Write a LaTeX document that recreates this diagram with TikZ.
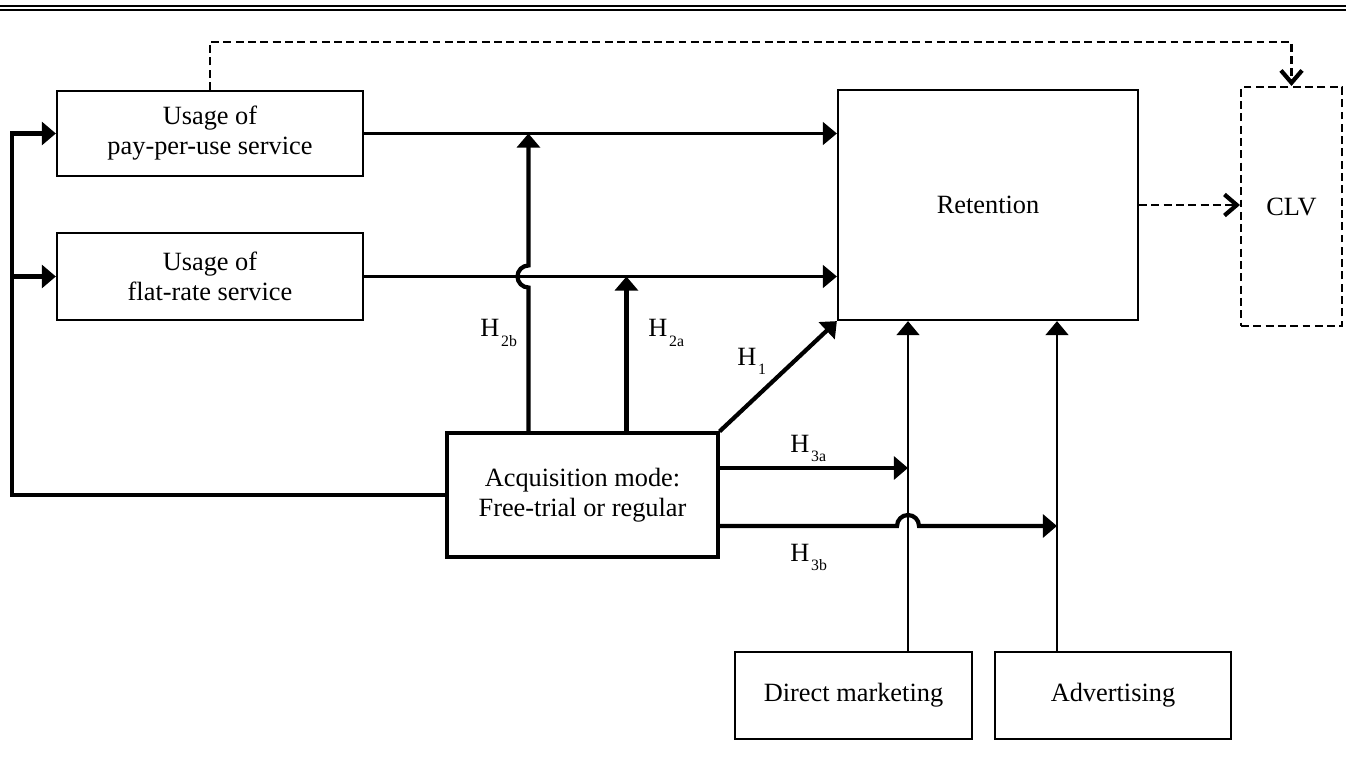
\documentclass[tikz,border=0pt]{standalone}
\usepackage{fontspec}
\setmainfont{Liberation Serif}
\usetikzlibrary{arrows.meta,calc}
\newcommand{\hyp}[1]{H\kern1pt\raisebox{-5.5pt}{\fontsize{9}{9}\selectfont #1}}

\begin{document}
\begin{tikzpicture}[x=0.02cm, y=-0.02cm, font=\fontsize{15}{17}\selectfont,
                box/.style={draw, line width=1.3pt, align=center, inner sep=0pt},
                link/.style={line width=1.3pt, -{Triangle[length=8pt, width=13pt]}},
                heavylink/.style={line width=2.4pt, -{Triangle[length=8pt, width=13pt]}},
                clvlink/.style={line width=1.5pt, dash pattern=on 4.5pt off 2.5pt, -{Straight Barb[length=7pt, width=12pt, line width=2.4pt]}},
                hyplabel/.style={anchor=base west, inner sep=0pt}]
                \useasboundingbox (0,0) rectangle (1346,770);
                \draw[line width=0.8pt] (0,6) -- (1346,6);
                \draw[line width=0.8pt] (0,10) -- (1346,10);

                \node[box, minimum width=6.12cm, minimum height=1.7cm] (pay) at (210, 133.5) {Usage of\\pay-per-use service};
                \node[box, minimum width=6.12cm, minimum height=1.74cm] (flat) at (210, 276.5) {Usage of\\flat-rate service};
                \node[box, line width=1.8pt, minimum width=5.42cm, minimum height=2.48cm] (acq) at (582.5, 495) {Acquisition mode:\\Free-trial or regular};
                \node[box, minimum width=6cm, minimum height=4.6cm] (ret) at (988, 205) {Retention};
                \node[box, line width=1.2pt, dash pattern=on 4.5pt off 2.5pt, minimum width=2.02cm, minimum height=4.78cm] (clv) at (1291.5, 206.5) {CLV};
                \node[box, minimum width=4.74cm, minimum height=1.74cm] (dm) at (853.5, 695.5) {Direct marketing};
                \node[box, minimum width=4.72cm, minimum height=1.74cm] (adv) at (1113, 695.5) {Advertising};

                \coordinate (bus) at ($(pay.west)+(-44,0)$);
                \coordinate (h2b) at ($(acq.north west)+(83,0)$);
                \coordinate (h2a) at ($(acq.north west)+(181,0)$);
                \coordinate (h3a) at ($(acq.east)+(0,-27)$);
                \coordinate (h3b) at ($(acq.east)+(0,31)$);
                \coordinate (dmup) at ($(dm.north)+(54.5,0)$);
                \coordinate (advup) at ($(adv.north)+(-56,0)$);
                \coordinate (cross2b) at (h2b |- flat.east);
                \coordinate (cross3b) at (h3b -| dmup);

                \draw[heavylink] (acq.west) -| (bus) -- (pay.west);
                \draw[heavylink] (bus |- flat.west) -- (flat.west);
                \draw[link] (pay.east) -- (pay.east -| ret.west);
                \draw[link] (flat.east) -- (flat.east -| ret.west);
                \draw[heavylink] (h2b) -- ($(cross2b)+(0,11)$) arc[start angle=270, end angle=90, radius=0.22cm] -- (h2b |- pay.east);
                \draw[heavylink] (h2a) -- (h2a |- flat.east);
                \draw[heavylink] (acq.north east) -- (ret.south west);
                \draw[heavylink] (h3a) -- (h3a -| dmup);
                \draw[heavylink] (h3b) -- ($(cross3b)+(-11,0)$) arc[start angle=180, end angle=0, radius=0.22cm] -- (h3b -| advup);
                \draw[link] (dmup) -- (dmup |- ret.south);
                \draw[link] (advup) -- (advup |- ret.south);
                \draw[clvlink] (ret.east) -- (ret.east -| clv.west);
                \draw[clvlink] (pay.north) -- ++(0,-48) -| (clv.north);

                \node[hyplabel] (l2b) at (480, 337) {\hyp{2b}};
                \node[hyplabel] (l2a) at (648, 337) {\hyp{2a}};
                \node[hyplabel] (l1) at (737, 365) {\hyp{1}};
                \node[hyplabel] (l3a) at (790, 452) {\hyp{3a}};
                \node[hyplabel] (l3b) at (790, 561) {\hyp{3b}};
\end{tikzpicture}
\end{document}
